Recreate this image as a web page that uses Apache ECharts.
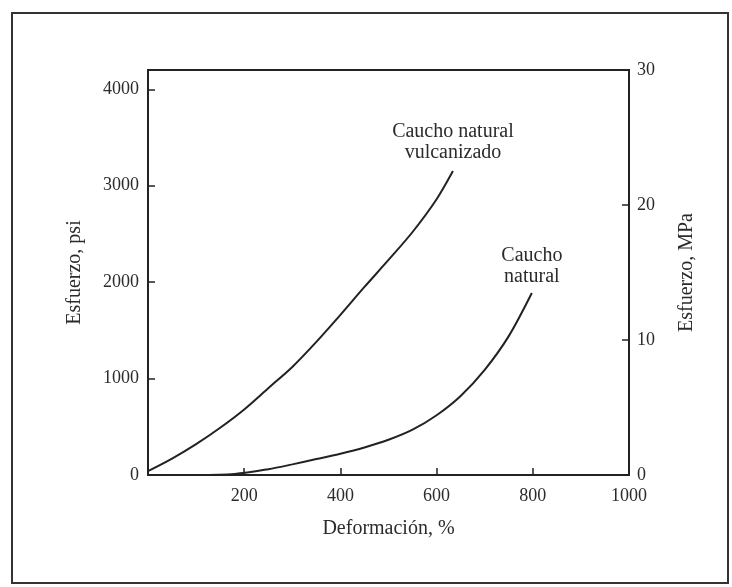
<!DOCTYPE html>
<html>
<head>
<meta charset="utf-8">
<script src="https://cdn.jsdelivr.net/npm/echarts@6/dist/echarts.min.js"></script>
<style>
  html, body { margin: 0; padding: 0; background: #fff; }
  #chart { width: 732px; height: 587px; }
</style>
</head>
<body>
<div id="chart"></div>
<script>
// Deformación (%) and Esfuerzo (psi)
const vulcStrain = [0, 50, 100, 150, 200, 250, 300, 350, 400, 450, 500, 550, 600, 634];
const vulcStress = [40, 170, 320, 490, 680, 900, 1120, 1380, 1660, 1950, 2230, 2520, 2860, 3152];
const natStrain = [0, 100, 180, 250, 300, 350, 400, 450, 500, 550, 600, 650, 700, 750, 798];
const natStress = [0, 0, 10, 60, 110, 165, 220, 285, 365, 470, 620, 820, 1090, 1440, 1887];
const vulcLabel = 'Caucho natural\nvulcanizado';
const natLabel = 'Caucho\nnatural';
const xTickValues = [200, 400, 600, 800, 1000];
const psiTicks = [0, 1000, 2000, 3000, 4000];
const mpaTicks = [0, 10, 20, 30];

const FONT = 'Liberation Serif';
const TXT = '#2b2b2b';
const LINE = '#222';

function pairs(xs, ys) { return xs.map((x, i) => [x, ys[i]]); }

const chart = echarts.init(document.getElementById('chart'), null, { renderer: 'canvas' });

function labelMark(xs, ys, text, dist) {
  const n = xs.length - 1;
  return {
    symbol: 'circle',
    symbolSize: 0,
    silent: true,
    animation: false,
    label: {
      show: true,
      position: 'top',
      distance: dist,
      formatter: text,
      fontFamily: FONT,
      fontSize: 20,
      lineHeight: 21,
      color: TXT,
      align: 'center'
    },
    data: [{ coord: [xs[n], ys[n]] }]
  };
}

const option = {
  backgroundColor: '#fff',
  animation: false,
  graphic: [{
    type: 'rect',
    shape: { x: 12, y: 13, width: 716, height: 570 },
    style: { fill: 'none', stroke: '#333', lineWidth: 2 },
    silent: true
  }],
  grid: {
    left: 148, right: 103, top: 70, bottom: 112,
    show: true, borderColor: LINE, borderWidth: 2, backgroundColor: 'transparent'
  },
  xAxis: {
    type: 'value', min: 0, max: 1000, interval: 200,
    name: 'Deformación, %', nameLocation: 'middle', nameGap: 44,
    nameTextStyle: { fontFamily: FONT, fontSize: 20, color: TXT },
    axisLine: { show: true, onZero: false, lineStyle: { color: LINE, width: 2 } },
    axisTick: { show: true, inside: true, length: 7, lineStyle: { color: LINE, width: 1.5 } },
    axisLabel: {
      showMinLabel: false, margin: 12, fontFamily: FONT, fontSize: 18, color: TXT,
      formatter: v => (xTickValues.indexOf(v) >= 0 ? String(v) : '')
    },
    splitLine: { show: false }
  },
  yAxis: [{
    type: 'value', min: 0, max: 4200, interval: 1000, position: 'left',
    name: 'Esfuerzo, psi', nameLocation: 'middle', nameGap: 63,
    nameTextStyle: { fontFamily: FONT, fontSize: 20, color: TXT },
    axisLine: { show: true, lineStyle: { color: LINE, width: 2 } },
    axisTick: { show: true, inside: true, length: 7, lineStyle: { color: LINE, width: 1.5 } },
    axisLabel: {
      showMaxLabel: false, margin: 9, fontFamily: FONT, fontSize: 18, color: TXT,
      formatter: v => (psiTicks.indexOf(v) >= 0 ? String(v) : '')
    },
    splitLine: { show: false }
  }, {
    type: 'value', min: 0, max: 30, interval: 10, position: 'right',
    name: 'Esfuerzo, MPa', nameLocation: 'middle', nameGap: 48,
    nameTextStyle: { fontFamily: FONT, fontSize: 20, color: TXT },
    axisLine: { show: true, lineStyle: { color: LINE, width: 2 } },
    axisTick: { show: true, inside: true, length: 7, lineStyle: { color: LINE, width: 1.5 } },
    axisLabel: {
      margin: 8, fontFamily: FONT, fontSize: 18, color: TXT,
      formatter: v => (mpaTicks.indexOf(v) >= 0 ? String(v) : '')
    },
    splitLine: { show: false }
  }],
  series: [{
    name: vulcLabel, type: 'line', yAxisIndex: 0,
    data: pairs(vulcStrain, vulcStress),
    smooth: 0.3, showSymbol: false, symbol: 'none',
    lineStyle: { color: LINE, width: 2 },
    markPoint: labelMark(vulcStrain, vulcStress, vulcLabel, 8)
  }, {
    name: natLabel, type: 'line', yAxisIndex: 0,
    data: pairs(natStrain, natStress),
    smooth: 0.3, showSymbol: false, symbol: 'none',
    lineStyle: { color: LINE, width: 2 },
    markPoint: labelMark(natStrain, natStress, natLabel, 6)
  }]
};

chart.setOption(option);
</script>
</body>
</html>
